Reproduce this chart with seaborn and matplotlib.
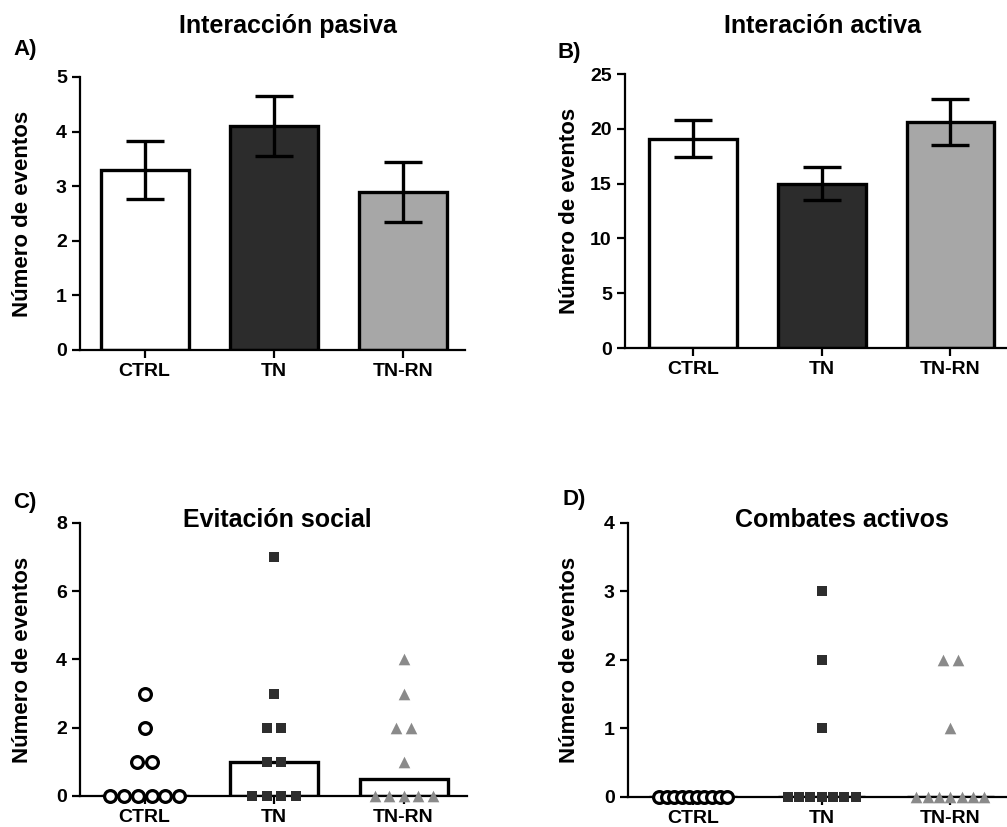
import numpy as np
import pandas as pd
import matplotlib.pyplot as plt
import seaborn as sns

groups = ['CTRL', 'TN', 'TN-RN']

# A) pasive interaction, mean +- SEM
pasiva_mean = [3.3, 4.1, 2.9]
pasiva_sem = [0.53, 0.55, 0.55]

# B) active interaction, mean +- SEM
activa_mean = [19.1, 15.0, 20.6]
activa_sem = [1.7, 1.5, 2.1]

# C) social avoidance, individual animals
evitacion_ctrl = [0, 0, 0, 0, 0, 0, 1, 1, 2, 3]
evitacion_tn = [0, 0, 0, 0, 1, 1, 2, 2, 3, 7]
evitacion_tnrn = [0, 0, 0, 0, 0, 1, 2, 2, 3, 4]

# D) active fights, individual animals
combates_ctrl = [0, 0, 0, 0, 0, 0, 0, 0, 0, 0]
combates_tn = [0, 0, 0, 0, 0, 0, 0, 1, 2, 3]
combates_tnrn = [0, 0, 0, 0, 0, 0, 0, 1, 2, 2]

bar_colors = ['#ffffff', '#2c2c2c', '#a7a7a7']

sns.set_style('ticks')
plt.rcParams['font.family'] = ['Liberation Sans', 'DejaVu Sans']
plt.rcParams['font.weight'] = 'bold'
plt.rcParams['axes.labelweight'] = 'bold'
plt.rcParams['axes.linewidth'] = 1.6
plt.rcParams['axes.edgecolor'] = 'black'
plt.rcParams['text.color'] = 'black'
plt.rcParams['axes.labelcolor'] = 'black'
plt.rcParams['xtick.color'] = 'black'
plt.rcParams['ytick.color'] = 'black'


def spread(values, step=0.112, max_width=0.53):
    # GraphPad-like horizontal spreading of tied values
    values = np.asarray(values)
    offsets = np.zeros(len(values))
    for v in np.unique(values):
        idx = np.where(values == v)[0]
        n = len(idx)
        s = step if n < 2 else min(step, max_width / (n - 1))
        offsets[idx] = (np.arange(n) - (n - 1) / 2) * s
    return offsets


def style_axis(ax, ymax, yticks, xlim, label_x):
    sns.despine(ax=ax)
    ax.set_ylim(0, ymax)
    ax.set_yticks(yticks)
    ax.set_xlim(*xlim)
    ax.set_xticks([0, 1, 2])
    ax.set_xticklabels(groups)
    ax.set_xlabel('')
    ax.set_ylabel('Número de eventos', fontsize=16)
    ax.yaxis.set_label_coords(label_x, 0.5)
    ax.tick_params(direction='out', length=6, width=1.6, labelsize=14,
                   colors='black')
    for lab in ax.get_xticklabels() + ax.get_yticklabels():
        lab.set_fontweight('bold')


def bar_panel(ax, means, sems, ymax, yticks, xlim, label_x):
    df = pd.DataFrame({'grupo': groups, 'valor': means})
    sns.barplot(data=df, x='grupo', y='valor', hue='grupo', palette=bar_colors,
                edgecolor='black', linewidth=2.4, width=0.68, legend=False,
                errorbar=None, ax=ax)
    ax.errorbar(range(3), means, yerr=sems, fmt='none', ecolor='black',
                elinewidth=2.4, capsize=14, capthick=2.4, zorder=3)
    style_axis(ax, ymax, yticks, xlim, label_x)


def dot_panel(ax, data, ymax, yticks, xlim, label_x):
    rows = []
    for i, (g, vals) in enumerate(zip(groups, data)):
        off = spread(vals)
        for v, o in zip(vals, off):
            rows.append({'grupo': g, 'valor': v, 'pos': i + o})
    df = pd.DataFrame(rows)
    sns.barplot(data=df, x='grupo', y='valor', estimator=np.median,
                errorbar=None, fill=False, color='black', linewidth=2.4,
                width=0.68, ax=ax)
    styles = {
        'CTRL': dict(marker='o', s=72, facecolor='white', edgecolor='black',
                     linewidth=2.3),
        'TN': dict(marker='s', s=62, color='#2e2e2e', linewidth=0),
        'TN-RN': dict(marker='^', s=70, color='#8a8a8a', linewidth=0),
    }
    for g in groups:
        sub = df[df['grupo'] == g]
        sns.scatterplot(x=sub['pos'], y=sub['valor'], ax=ax, zorder=4,
                        clip_on=False, legend=False, **styles[g])
    style_axis(ax, ymax, yticks, xlim, label_x)


fig = plt.figure(figsize=(10.07, 8.27), dpi=100)
ax_a = fig.add_axes([0.0794, 0.5768, 0.3824, 0.3301])
ax_b = fig.add_axes([0.6207, 0.5792, 0.3793, 0.3313])
ax_c = fig.add_axes([0.0794, 0.0375, 0.3843, 0.3301])
ax_d = fig.add_axes([0.6236, 0.0363, 0.3764, 0.3313])

bar_panel(ax_a, pasiva_mean, pasiva_sem, 5, range(0, 6), (-0.5, 2.48), -0.122)
bar_panel(ax_b, activa_mean, activa_sem, 25, range(0, 26, 5), (-0.53, 2.44), -0.118)
dot_panel(ax_c, [evitacion_ctrl, evitacion_tn, evitacion_tnrn], 8,
          range(0, 9, 2), (-0.5, 2.49), -0.121)
dot_panel(ax_d, [combates_ctrl, combates_tn, combates_tnrn], 4,
          range(0, 5), (-0.506, 2.44), -0.127)

fig.text(288 / 1007, 0.960, 'Interacción pasiva', ha='center', va='baseline',
         fontsize=18, fontweight='bold')
fig.text(823 / 1007, 0.960, 'Interación activa', ha='center', va='baseline',
         fontsize=18, fontweight='bold')
fig.text(277 / 1007, 0.3628, 'Evitación social', ha='center', va='baseline',
         fontsize=18, fontweight='bold')
fig.text(842 / 1007, 0.3628, 'Combates activos', ha='center', va='baseline',
         fontsize=18, fontweight='bold')

fig.text(0.013, 0.9335, 'A)', fontsize=16, fontweight='bold', va='baseline')
fig.text(0.554, 0.930, 'B)', fontsize=16, fontweight='bold', va='baseline')
fig.text(0.013, 0.3857, 'C)', fontsize=16, fontweight='bold', va='baseline')
fig.text(0.559, 0.389, 'D)', fontsize=16, fontweight='bold', va='baseline')

fig.savefig('out.png', dpi=100)
